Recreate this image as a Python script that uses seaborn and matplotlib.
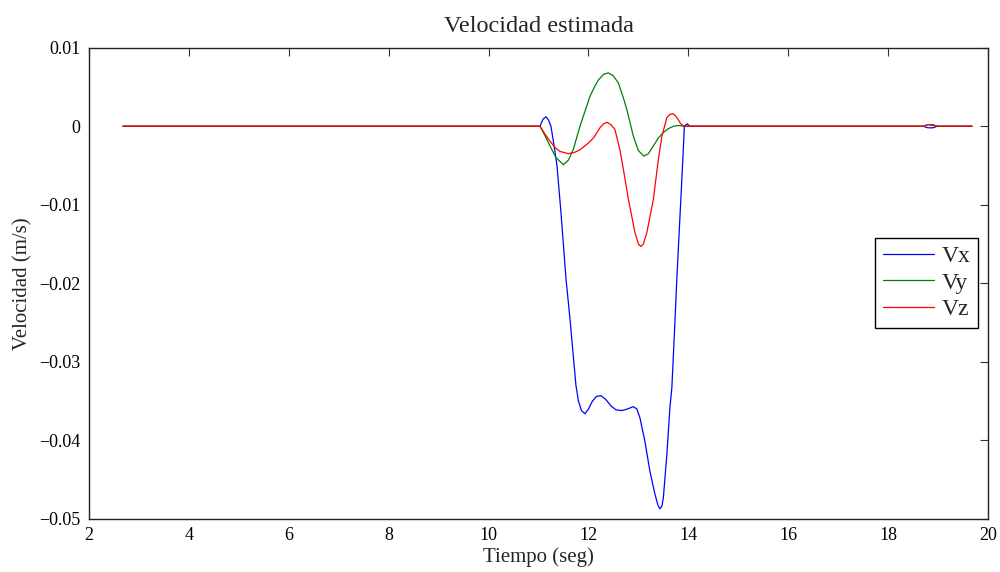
import matplotlib
matplotlib.use("Agg")
import matplotlib.pyplot as plt
import seaborn as sns
import pandas as pd

# --- data ---
t_vx = [2.68, 11.03, 11.09, 11.15, 11.20, 11.25, 11.30, 11.37, 11.45, 11.55, 11.63, 11.70, 11.75,
        11.80, 11.86, 11.93, 12.00, 12.08, 12.16, 12.25, 12.35, 12.45, 12.55, 12.67, 12.78, 12.90,
        12.97, 13.03, 13.13, 13.23, 13.33, 13.39, 13.43, 13.47, 13.50, 13.57, 13.63, 13.67, 13.71,
        13.77, 13.83, 13.89, 13.92, 13.98, 14.03, 18.70, 18.80, 18.90, 18.98, 19.68]
vx = [0, 0, 0.0009, 0.0012, 0.0008, 0, -0.0020, -0.0050, -0.0110, -0.0194, -0.0245, -0.0295, -0.0330,
      -0.0350, -0.0362, -0.0366, -0.0360, -0.0350, -0.0344, -0.0343, -0.0348, -0.0356, -0.0361, -0.0362,
      -0.0360, -0.0357, -0.0360, -0.0371, -0.0401, -0.0439, -0.0468, -0.0482, -0.0487, -0.0484, -0.0473,
      -0.0418, -0.0359, -0.0333, -0.0279, -0.0194, -0.0118, -0.0042, 0, 0.0003, 0, 0, -0.0002, -0.0002, 0, 0]

t_vy = [2.68, 11.03, 11.13, 11.23, 11.35, 11.50, 11.60, 11.70, 11.83, 11.93, 12.03, 12.12, 12.20, 12.30,
        12.40, 12.50, 12.60, 12.70, 12.77, 12.90, 13.00, 13.11, 13.20, 13.30, 13.40, 13.50, 13.60, 13.70,
        13.80, 13.92, 18.70, 18.80, 18.90, 18.98, 19.68]
vy = [0, 0, -0.0012, -0.0025, -0.0040, -0.0049, -0.0043, -0.0029, 0, 0.0019, 0.0038, 0.0050, 0.0059, 0.0066,
      0.0068, 0.0064, 0.0055, 0.0036, 0.0021, -0.0013, -0.0031, -0.0038, -0.0035, -0.0025, -0.0015, -0.0008,
      -0.0003, 0.0000, 0.0001, 0, 0, 0.0002, 0.0002, 0, 0]

t_vz = [2.68, 11.03, 11.13, 11.23, 11.33, 11.43, 11.60, 11.73, 11.83, 11.97, 12.10, 12.23, 12.30, 12.37,
        12.45, 12.53, 12.63, 12.70, 12.80, 12.93, 13.00, 13.05, 13.10, 13.17, 13.30, 13.40, 13.47, 13.57,
        13.63, 13.69, 13.75, 13.80, 13.85, 13.92, 18.70, 18.80, 18.90, 18.98, 19.68]
vz = [0, 0, -0.0010, -0.0019, -0.0027, -0.0032, -0.0035, -0.0033, -0.0030, -0.0023, -0.0015, -0.0002, 0.0003,
      0.0005, 0.0002, -0.0004, -0.0030, -0.0055, -0.0093, -0.0135, -0.0150, -0.0153, -0.0150, -0.0135,
      -0.0093, -0.0042, -0.0013, 0.0011, 0.0015, 0.0016, 0.0013, 0.0008, 0.0003, 0, 0, 0.0002, 0.0001, 0, 0]

series_names = ["Vx", "Vy", "Vz"]
series_colors = ["#0000ff", "#008000", "#ff0000"]

x_ticks = [2, 4, 6, 8, 10, 12, 14, 16, 18, 20]
y_ticks = [-0.05, -0.04, -0.03, -0.02, -0.01, 0, 0.01]
y_tick_labels = ["\u22120.05", "\u22120.04", "\u22120.03", "\u22120.02", "\u22120.01", "0", "0.01"]

title = "Velocidad estimada"
xlabel = "Tiempo (seg)"
ylabel = "Velocidad (m/s)"

# --- build long table ---
frames = []
for name, t, v in zip(series_names, [t_vx, t_vy, t_vz], [vx, vy, vz]):
    frames.append(pd.DataFrame({"t": t, "v": v, "serie": name}))
df = pd.concat(frames, ignore_index=True)

sns.set_style("white")
plt.rcParams["font.family"] = ["Liberation Serif", "DejaVu Serif"]
plt.rcParams["axes.unicode_minus"] = True

fig = plt.figure(figsize=(10, 5.72), dpi=100)
ax = fig.add_axes([0.089, 0.0927, 0.899, 0.8239])

sns.lineplot(data=df, x="t", y="v", hue="serie", hue_order=series_names,
             palette=series_colors, linewidth=0.9, ax=ax, sort=False,
             estimator=None)

ax.set_xlim(2, 20)
ax.set_ylim(-0.05, 0.01)
ax.set_xticks(x_ticks)
ax.set_xticklabels([str(v) for v in x_ticks])
ax.set_yticks(y_ticks)
ax.set_yticklabels(y_tick_labels)

ax.tick_params(direction="in", length=6, width=0.8, top=True, right=True,
               labelsize=13, colors="#333333", labelcolor="black", pad=6)
for s in ax.spines.values():
    s.set_visible(True)
    s.set_color("#222222")
    s.set_linewidth(1.0)

ax.set_title(title, fontsize=17.5, pad=11)
ax.set_xlabel(xlabel, fontsize=15, labelpad=2)
ax.set_ylabel(ylabel, fontsize=15, labelpad=5)

leg = ax.legend(loc="upper left", bbox_to_anchor=(0.874, 0.596), fontsize=17,
                frameon=True, fancybox=False, edgecolor="black", framealpha=1,
                handlelength=2.2, handletextpad=0.3, borderpad=0.33, labelspacing=0.2,
                borderaxespad=0)
leg.get_frame().set_linewidth(1.0)

fig.savefig("out.png", dpi=100)
